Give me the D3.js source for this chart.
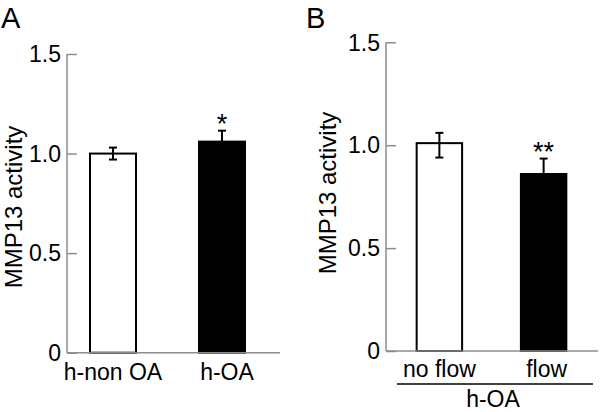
<!DOCTYPE html>
<html>
<head>
<meta charset="utf-8">
<script src="https://cdn.jsdelivr.net/npm/d3@7"></script>
<style>
  html, body { margin: 0; padding: 0; background: #fff; }
  svg { display: block; font-family: "Liberation Sans", Arial, Helvetica, sans-serif; }
</style>
</head>
<body>
<svg id="chart" width="600" height="412"></svg>
<script>
// ---- Data ----
const yTicks = [0, 0.5, 1.0, 1.5];
const yTickLabels = ["0", "0.5", "1.0", "1.5"];
const yLabel = "MMP13 activity";

const catsA = ["h-non OA", "h-OA"];
const valuesA = [1.00, 1.06];
const errUpA = [0.03, 0.055];
const errDownA = [0.03, 0];
const sigA = ["", "*"];
const fillsA = ["#ffffff", "#000000"];

const catsB = ["no flow", "flow"];
const valuesB = [1.01, 0.86];
const errUpB = [0.05, 0.075];
const errDownB = [0.07, 0];
const sigB = ["", "**"];
const fillsB = ["#ffffff", "#000000"];
const groupLabelB = "h-OA";

// ---- Drawing ----
const svg = d3.select("#chart");
const axisColor = "#8c8c8c";

function panel(cfg) {
  const g = svg.append("g");
  const y = d3.scaleLinear().domain([0, 1.5]).range([cfg.y0, cfg.y15]);
  const x = d3.scaleBand().domain(cfg.cats).range([cfg.ax, cfg.bandEnd])
    .paddingInner(cfg.pi).paddingOuter(cfg.po);

  // panel letter
  g.append("text").attr("x", cfg.letterX).attr("y", 28)
    .attr("font-size", 29).attr("fill", "#000").text(cfg.letter);

  // y axis via d3.axisRight (ticks point inward)
  const axis = d3.axisRight(y).tickValues(yTicks).tickSize(10).tickFormat("");
  const ag = g.append("g").attr("transform", `translate(${cfg.ax},0)`).call(axis);
  ag.select(".domain").attr("stroke", axisColor).attr("stroke-width", 1.5)
    .attr("d", `M0,${y(1.5)}V${y(0)}`);
  ag.selectAll(".tick line").attr("stroke", axisColor).attr("stroke-width", 1.5);

  // tick labels
  g.selectAll(".tl").data(yTicks).enter().append("text")
    .attr("x", cfg.ax - 6).attr("y", d => y(d)).attr("dy", "0.36em")
    .attr("text-anchor", "end").attr("font-size", 23).attr("fill", "#000")
    .text((d, i) => yTickLabels[i]);

  // y label
  g.append("text")
    .attr("transform", `translate(${cfg.ylx},${cfg.yly}) rotate(-90)`)
    .attr("text-anchor", "middle").attr("font-size", 24).attr("fill", "#000")
    .text(yLabel);

  // bars
  const data = cfg.cats.map((c, i) => ({c, v: cfg.vals[i], up: cfg.up[i], dn: cfg.dn[i], s: cfg.sig[i], f: cfg.fills[i]}));
  g.selectAll(".bar").data(data).enter().append("rect")
    .attr("x", d => x(d.c)).attr("width", x.bandwidth())
    .attr("y", d => y(d.v)).attr("height", d => y(0) - y(d.v))
    .attr("fill", d => d.f).attr("stroke", "#000").attr("stroke-width", 2);

  // baseline
  g.append("line").attr("x1", cfg.ax).attr("x2", cfg.baseEnd)
    .attr("y1", y(0)).attr("y2", y(0))
    .attr("stroke", axisColor).attr("stroke-width", 1.5);

  // error bars
  const cx = d => x(d.c) + x.bandwidth() / 2;
  const eg = g.selectAll(".err").data(data).enter().append("g");
  eg.append("line").attr("x1", cx).attr("x2", cx)
    .attr("y1", d => y(d.v - d.dn)).attr("y2", d => y(d.v + d.up))
    .attr("stroke", "#000").attr("stroke-width", 2);
  eg.append("line").attr("x1", d => cx(d) - 4).attr("x2", d => cx(d) + 4)
    .attr("y1", d => y(d.v + d.up)).attr("y2", d => y(d.v + d.up))
    .attr("stroke", "#000").attr("stroke-width", 2);
  eg.filter(d => d.dn > 0).append("line").attr("x1", d => cx(d) - 4).attr("x2", d => cx(d) + 4)
    .attr("y1", d => y(d.v - d.dn)).attr("y2", d => y(d.v - d.dn))
    .attr("stroke", "#000").attr("stroke-width", 2);

  // significance
  g.selectAll(".sig").data(data.filter(d => d.s)).enter().append("text")
    .attr("x", cx).attr("y", d => y(d.v + d.up) + 2)
    .attr("text-anchor", "middle").attr("font-size", 27).attr("fill", "#000")
    .text(d => d.s);

  // category labels
  g.selectAll(".cl").data(data).enter().append("text")
    .attr("x", d => cx(d) + (cfg.labOff ? cfg.labOff[cfg.cats.indexOf(d.c)] : 0))
    .attr("y", cfg.labY)
    .attr("text-anchor", "middle").attr("font-size", 23).attr("fill", "#000")
    .text(d => d.c);

  return {x, y, g};
}

panel({
  letter: "A", letterX: 1, ax: 67, bandEnd: 268, baseEnd: 280, pi: 0.578, po: 0.211,
  y0: 352.7, y15: 54, ylx: 22, yly: 207, labY: 380, labOff: [0, 5],
  cats: catsA, vals: valuesA, up: errUpA, dn: errDownA, sig: sigA, fills: fillsA
});

const pB = panel({
  letter: "B", letterX: 306, ax: 386, bandEnd: 597, baseEnd: 598, pi: 0.564, po: 0.294,
  y0: 351, y15: 42.3, ylx: 336, yly: 193, labY: 377, labOff: [0, 3],
  cats: catsB, vals: valuesB, up: errUpB, dn: errDownB, sig: sigB, fills: fillsB
});

// group bracket line under B
pB.g.append("line").attr("x1", 397).attr("x2", 593).attr("y1", 384).attr("y2", 384)
  .attr("stroke", "#000").attr("stroke-width", 1.5);
pB.g.append("text").attr("x", 493).attr("y", 407).attr("text-anchor", "middle")
  .attr("font-size", 23).attr("fill", "#000").text(groupLabelB);
</script>
</body>
</html>
